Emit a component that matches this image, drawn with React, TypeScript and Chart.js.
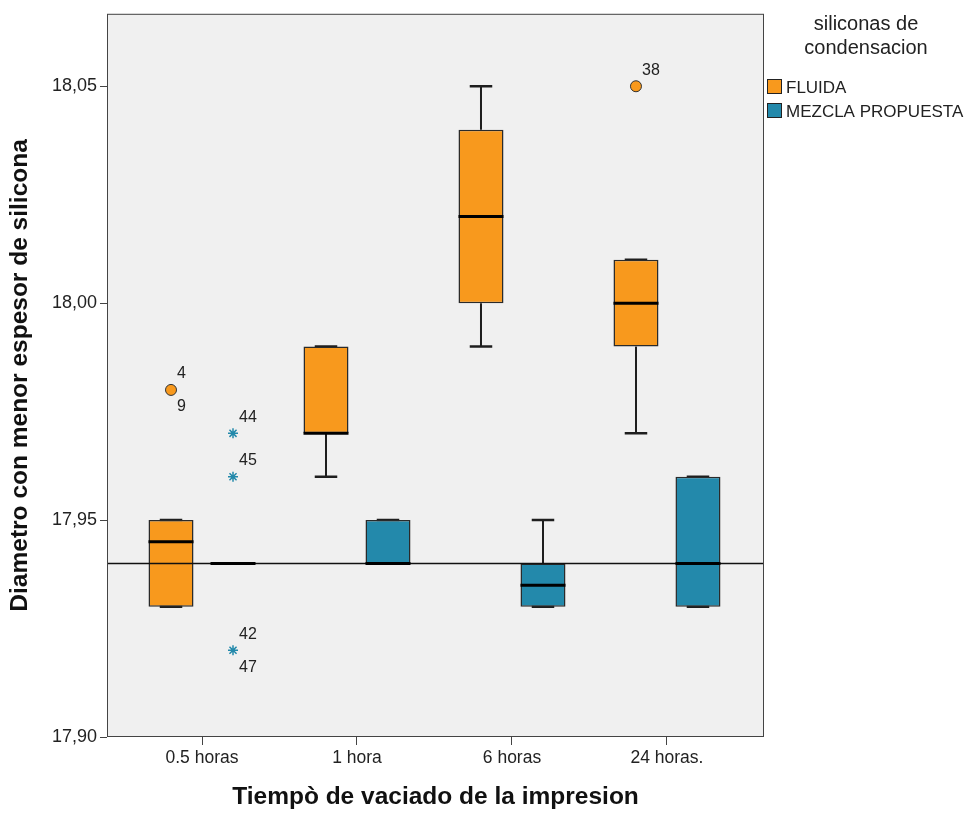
import React, { useEffect, useRef } from 'react';
import { Chart, registerables } from 'chart.js';

Chart.register(...registerables);

// ---- data ----
const categories = ['0.5 horas', '1 hora', '6 horas', '24 horas.'];
const groupPositions = [1, 2, 3, 4];
const seriesNames = ['FLUIDA', 'MEZCLA PROPUESTA'];
const seriesColors = ['#f8991d', '#2389ab'];
const yTickValues = [17.9, 17.95, 18.0, 18.05];
const referenceValue = 17.94;

const fluidaMin = [17.93, 17.96, 17.99, 17.97];
const fluidaQ1 = [17.93, 17.97, 18.0, 17.99];
const fluidaMedian = [17.945, 17.97, 18.02, 18.0];
const fluidaQ3 = [17.95, 17.99, 18.04, 18.01];
const fluidaMax = [17.95, 17.99, 18.05, 18.01];

const mezclaMin = [17.94, 17.94, 17.93, 17.93];
const mezclaQ1 = [17.94, 17.94, 17.93, 17.93];
const mezclaMedian = [17.94, 17.94, 17.935, 17.94];
const mezclaQ3 = [17.94, 17.95, 17.94, 17.96];
const mezclaMax = [17.94, 17.95, 17.95, 17.96];

// outliers (circles) and extremes (stars)
const fluidaOutlierGroups = [0, 3];
const fluidaOutlierValues = [17.98, 18.05];
const fluidaOutlierIds = [['4', '9'], ['38']];

const mezclaExtremeGroups = [0, 0, 0];
const mezclaExtremeValues = [17.97, 17.96, 17.92];
const mezclaExtremeIds = [['44'], ['45'], ['42', '47']];

const CATEGORY_PCT = 0.8;
const BAR_PCT = 0.726;
const dodge = CATEGORY_PCT / 4;

const FONT = "'Liberation Sans', Arial, sans-serif";

const boxStats = [
  { min: fluidaMin, q1: fluidaQ1, med: fluidaMedian, q3: fluidaQ3, max: fluidaMax },
  { min: mezclaMin, q1: mezclaQ1, med: mezclaMedian, q3: mezclaQ3, max: mezclaMax },
];

const decorPlugin = {
  id: 'boxDecor',
  beforeDraw(chart: any) {
    const { ctx, chartArea: a } = chart;
    ctx.save();
    ctx.fillStyle = '#ffffff';
    ctx.fillRect(0, 0, chart.width, chart.height);
    ctx.fillStyle = '#f0f0f0';
    ctx.fillRect(a.left, a.top, a.right - a.left, a.bottom - a.top);
    ctx.restore();
  },
  beforeDatasetsDraw(chart: any) {
    const { ctx } = chart;
    const y = chart.scales.y;
    ctx.save();
    ctx.strokeStyle = '#1e1e1e';
    for (let s = 0; s < 2; s++) {
      const meta = chart.getDatasetMeta(s);
      const st = boxStats[s];
      meta.data.forEach((bar: any, i: number) => {
        const x = bar.x;
        const cap = bar.width / 2;
        const yMin = y.getPixelForValue(st.min[i]);
        const yQ1 = y.getPixelForValue(st.q1[i]);
        const yQ3 = y.getPixelForValue(st.q3[i]);
        const yMax = y.getPixelForValue(st.max[i]);
        ctx.lineWidth = 2;
        ctx.beginPath();
        ctx.moveTo(x, yQ3);
        ctx.lineTo(x, yMax);
        ctx.moveTo(x, yQ1);
        ctx.lineTo(x, yMin);
        ctx.stroke();
        ctx.lineWidth = 2.5;
        ctx.beginPath();
        ctx.moveTo(x - cap / 2, yMax);
        ctx.lineTo(x + cap / 2, yMax);
        ctx.moveTo(x - cap / 2, yMin);
        ctx.lineTo(x + cap / 2, yMin);
        ctx.stroke();
      });
    }
    ctx.restore();
  },
  afterDatasetsDraw(chart: any) {
    const { ctx, chartArea: a } = chart;
    const y = chart.scales.y;
    const x = chart.scales.x;
    ctx.save();
    // reference line
    const yr = y.getPixelForValue(referenceValue);
    ctx.strokeStyle = '#111';
    ctx.lineWidth = 1.5;
    ctx.beginPath();
    ctx.moveTo(a.left, yr);
    ctx.lineTo(a.right, yr);
    ctx.stroke();
    // medians
    ctx.strokeStyle = '#000';
    ctx.lineWidth = 3;
    for (let s = 0; s < 2; s++) {
      const meta = chart.getDatasetMeta(s);
      const st = boxStats[s];
      meta.data.forEach((bar: any, i: number) => {
        const ym = y.getPixelForValue(st.med[i]);
        ctx.beginPath();
        ctx.moveTo(bar.x - bar.width / 2, ym);
        ctx.lineTo(bar.x + bar.width / 2, ym);
        ctx.stroke();
      });
    }
    // outlier labels
    ctx.fillStyle = '#222';
    ctx.font = `16px ${FONT}`;
    ctx.textAlign = 'left';
    ctx.textBaseline = 'middle';
    const drawIds = (px: number, py: number, ids: string[]) => {
      if (ids.length === 1) {
        ctx.fillText(ids[0], px + 6, py - 16);
      } else {
        ctx.fillText(ids[0], px + 6, py - 16);
        ctx.fillText(ids[1], px + 6, py + 17);
      }
    };
    fluidaOutlierGroups.forEach((g, i) => {
      drawIds(x.getPixelForValue(groupPositions[g] - dodge), y.getPixelForValue(fluidaOutlierValues[i]), fluidaOutlierIds[i]);
    });
    mezclaExtremeGroups.forEach((g, i) => {
      drawIds(x.getPixelForValue(groupPositions[g] + dodge), y.getPixelForValue(mezclaExtremeValues[i]), mezclaExtremeIds[i]);
    });
    // frame
    ctx.strokeStyle = '#444';
    ctx.lineWidth = 1;
    ctx.strokeRect(a.left + 0.5, a.top + 0.5, a.right - a.left - 1, a.bottom - a.top - 1);
    // legend
    ctx.fillStyle = '#222';
    ctx.textAlign = 'center';
    ctx.font = `20px ${FONT}`;
    ctx.fillText('siliconas de', 866, 24);
    ctx.fillText('condensacion', 866, 48);
    ctx.textAlign = 'left';
    ctx.font = `17px ${FONT}`;
    seriesNames.forEach((name, i) => {
      const ly = 87 + i * 24;
      ctx.fillStyle = seriesColors[i];
      ctx.fillRect(767, ly - 8, 15, 15);
      ctx.strokeStyle = '#222';
      ctx.lineWidth = 1;
      ctx.strokeRect(767.5, ly - 7.5, 14, 14);
      ctx.fillStyle = '#222';
      ctx.fillText(name, 786, ly + 1);
    });
    ctx.restore();
  },
};

export default function App() {
  const ref = useRef<HTMLCanvasElement | null>(null);
  useEffect(() => {
    if (!ref.current) return;
    const datasets: any[] = boxStats.map((st, s) => ({
      type: 'bar',
      label: seriesNames[s],
      data: groupPositions.map((p, i) => ({ x: p, y: [st.q1[i], st.q3[i]] })),
      backgroundColor: seriesColors[s],
      borderColor: '#2a2a2a',
      borderWidth: 1.5,
      borderSkipped: false,
      categoryPercentage: CATEGORY_PCT,
      barPercentage: BAR_PCT,
      order: 2,
    }));
    datasets.push({
      type: 'scatter',
      label: 'outliers',
      data: fluidaOutlierGroups.map((g, i) => ({ x: groupPositions[g] - dodge, y: fluidaOutlierValues[i] })),
      pointStyle: 'circle',
      pointRadius: 5.5,
      backgroundColor: seriesColors[0],
      borderColor: '#333',
      borderWidth: 1,
      order: 1,
    });
    datasets.push({
      type: 'scatter',
      label: 'extremes',
      data: mezclaExtremeGroups.map((g, i) => ({ x: groupPositions[g] + dodge, y: mezclaExtremeValues[i] })),
      pointStyle: 'star',
      pointRadius: 5,
      backgroundColor: seriesColors[1],
      borderColor: seriesColors[1],
      borderWidth: 1.5,
      order: 1,
    });

    const chart = new Chart(ref.current, {
      type: 'bar',
      data: { datasets },
      plugins: [decorPlugin],
      options: {
        animation: false,
        responsive: false,
        layout: { padding: { left: 0, top: 10, right: 204, bottom: 0 } },
        plugins: { legend: { display: false }, tooltip: { enabled: false } },
        scales: {
          x: {
            type: 'linear',
            min: 0.387,
            max: 4.626,
            offset: false,
            afterBuildTicks: (scale: any) => {
              scale.ticks = groupPositions.map((v) => ({ value: v }));
            },
            afterFit: (scale: any) => {
              scale.height = 77;
            },
            ticks: {
              autoSkip: false,
              maxRotation: 0,
              padding: 3,
              color: '#222',
              font: { family: FONT, size: 17.5 },
              callback: (v: any) => {
                const idx = groupPositions.indexOf(Number(v));
                return idx >= 0 ? categories[idx] : '';
              },
            },
            grid: { offset: false, drawOnChartArea: false, drawTicks: true, tickLength: 8, color: '#444' },
            border: { display: false },
            title: {
              display: true,
              text: 'Tiempò de vaciado de la impresion',
              color: '#111',
              font: { family: FONT, size: 24.5, weight: 'bold' },
              padding: { top: 0, bottom: 2 },
            },
          },
          y: {
            type: 'linear',
            min: 17.9,
            max: 18.0667,
            afterBuildTicks: (scale: any) => {
              scale.ticks = yTickValues.map((v) => ({ value: v }));
            },
            afterFit: (scale: any) => {
              scale.width = 107;
            },
            ticks: {
              padding: 3,
              color: '#222',
              font: { family: FONT, size: 18 },
              callback: (v: any) => Number(v).toFixed(2).replace('.', ','),
            },
            grid: { drawOnChartArea: false, drawTicks: true, tickLength: 7, color: '#444' },
            border: { display: false },
            title: {
              display: true,
              text: 'Diametro con menor espesor de silicona',
              color: '#111',
              font: { family: FONT, size: 24.5, weight: 'bold' },
              padding: { top: 6, bottom: 0 },
            },
          },
        },
      } as any,
    });
    return () => chart.destroy();
  }, []);
  return (
    <div style={{ position: 'fixed', left: 0, top: 0, width: 968, height: 814 }}>
      <canvas ref={ref} width={968} height={814} style={{ width: 968, height: 814, display: 'block' }} />
    </div>
  );
}
